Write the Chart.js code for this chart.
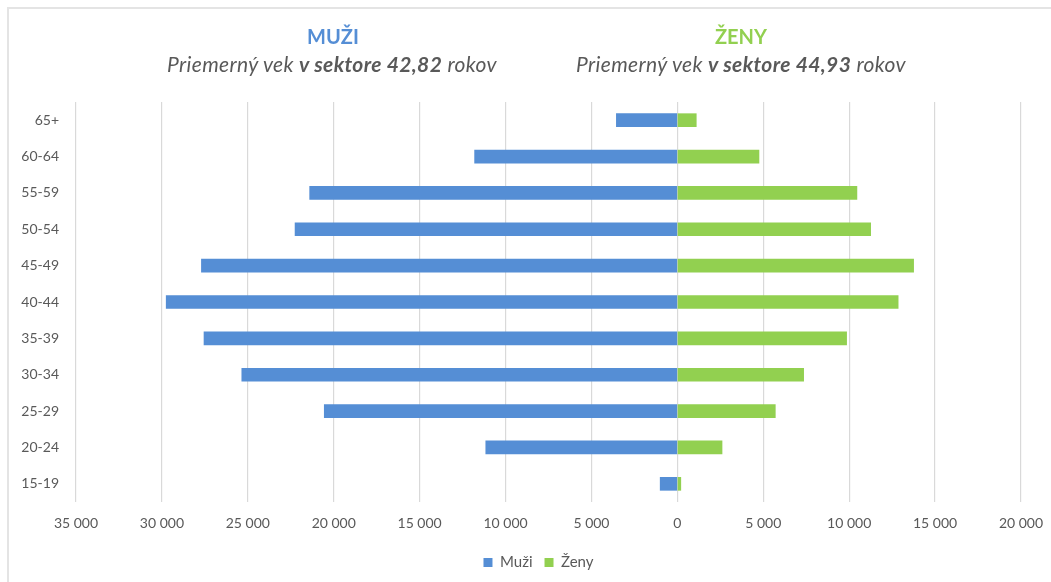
<!DOCTYPE html>
<html lang="sk">
<head>
<meta charset="utf-8">
<title>Veková štruktúra zamestnancov v sektore</title>
<script src="https://cdn.jsdelivr.net/npm/chart.js@4/dist/chart.umd.min.js"></script>
<style>
  html, body { margin: 0; padding: 0; width: 1051px; height: 582px; overflow: hidden; background: #fff; font-family: Lato, "Open Sans", sans-serif; }
  #frame { position: absolute; left: 7px; top: 7px; width: 1100px; height: 620px; border: 2px solid #e4e4e4; box-sizing: border-box; }
  #wrap { position: absolute; left: 0; top: 0; width: 1051px; height: 582px; }
  .head { position: absolute; width: 440px; margin-left: -220px; text-align: center; white-space: nowrap; }
  .name { font-weight: bold; font-size: 20px; line-height: 24px; top: 24px; }
  .sub { font-style: italic; font-size: 21px; letter-spacing: 0.35px; line-height: 24px; top: 52px; color: #595959; }
  .men { color: #558ED5; }
  .women { color: #92D050; }
</style>
</head>
<body>
<div id="frame"></div>
<div id="wrap"><canvas id="pyramid" width="1051" height="582"></canvas></div>
<div class="head name men" style="left:333px">MUŽI</div>
<div class="head name women" style="left:741px">ŽENY</div>
<div class="head sub" style="left:332px">Priemerný vek <b>v sektore 42,82</b> rokov</div>
<div class="head sub" style="left:741px">Priemerný vek <b>v sektore 44,93</b> rokov</div>
<script>
// Age groups, top row first
const ageGroups = ['65+', '60-64', '55-59', '50-54', '45-49', '40-44', '35-39', '30-34', '25-29', '20-24', '15-19'];
// Headcounts per age group
const menCounts   = [3550, 11800, 21400, 22250, 27700, 29750, 27550, 25350, 20550, 11150, 1000];
const womenCounts = [1100, 4750, 10450, 11250, 13750, 12850, 9850, 7350, 5700, 2600, 200];
// Horizontal axis range and step
const axisMin = -35000;
const axisMax = 20000;
const axisStep = 5000;

const textGray = '#595959';
const tickFont = { family: 'Lato', size: 14 };

// "35 000" style labels, men side shown without the sign
function formatCount(v) {
  const a = Math.abs(v);
  if (a < 1000) return String(a);
  return Math.floor(a / 1000) + ' ' + String(a % 1000).padStart(3, '0');
}

// Centre the legend under the whole frame rather than the layout box
const legendShift = {
  id: 'legendShift',
  afterLayout(chart) {
    const lg = chart.legend;
    if (!lg) return;
    lg.left += 28;
    lg.right += 28;
  }
};

new Chart(document.getElementById('pyramid'), {
  type: 'bar',
  data: {
    labels: ageGroups,
    datasets: [
      { label: 'Muži', data: menCounts.map(v => -v), backgroundColor: '#558ED5', barThickness: 13 },
      { label: 'Ženy', data: womenCounts, backgroundColor: '#92D050', barThickness: 13 }
    ]
  },
  plugins: [legendShift],
  options: {
    indexAxis: 'y',
    responsive: false,
    animation: false,
    layout: { padding: { top: 102, right: 30, bottom: 2, left: 0 } },
    scales: {
      x: {
        stacked: true,
        min: axisMin,
        max: axisMax,
        ticks: { stepSize: axisStep, callback: v => formatCount(v), color: textGray, font: tickFont, padding: 13, maxRotation: 0, autoSkip: false },
        grid: { color: '#d9d9d9', lineWidth: 1.2, drawTicks: false },
        border: { display: false },
        afterFit: s => { s.height = 41; s.paddingLeft = 0; s.paddingRight = 0; }
      },
      y: {
        stacked: true,
        ticks: { color: textGray, font: tickFont, padding: 17 },
        grid: { display: false, drawTicks: false },
        border: { display: false },
        afterFit: s => { s.width = 76; }
      }
    },
    plugins: {
      legend: {
        position: 'bottom',
        labels: { boxWidth: 9, boxHeight: 9, padding: 12, color: textGray, font: { family: 'Lato', size: 15 } }
      },
      tooltip: { enabled: false }
    }
  }
});
</script>
</body>
</html>
